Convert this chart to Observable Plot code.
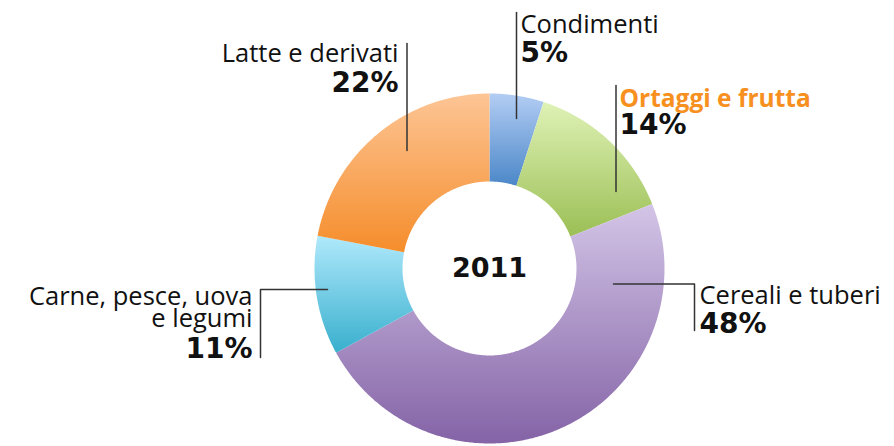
<!DOCTYPE html>
<html><head><meta charset="utf-8">
<script src="https://cdn.jsdelivr.net/npm/d3@7"></script>
<script src="https://cdn.jsdelivr.net/npm/@observablehq/plot@0.6"></script>
<style>body{margin:0;background:#fff} svg{display:block}</style>
</head><body><div id="chart"></div>
<script>
// ---- data ----
const categories = ["Condimenti", "Ortaggi e frutta", "Cereali e tuberi", "Carne, pesce, uova\ne legumi", "Latte e derivati"];
const shares = [5, 14, 48, 11, 22];
const centerLabel = "2011";

// ---- styles ----
const gradTop    = ["#b3cdf4", "#dff2b6", "#d3c5e7", "#b0e9fc", "#fdc595"];
const gradBottom = ["#4b87c8", "#9bbf55", "#8463a6", "#38afcd", "#f58d2b"];
const nameColor  = ["#111", "#f7901e", "#111", "#111", "#111"];
const nameWeight = ["normal", "bold", "normal", "normal", "normal"];

// ---- layout (pixels) ----
const W = 894, H = 446, CX = 489, CY = 268, R = 175, INNER = 0.497;
const labelLayout = [
  {anchor: "start", tx: 520, nameY: 32,  pctY: 61,  leader: [[516, 118], [516, 12]]},
  {anchor: "start", tx: 619, nameY: 106, pctY: 133, leader: [[615.5, 191], [615.5, 85]]},
  {anchor: "start", tx: 699, nameY: 303, pctY: 332, leader: [[613, 283.5], [694, 283.5], [694, 330]]},
  {anchor: "end",   tx: 252, nameY: 326, pctY: 357, leader: [[327, 289], [260, 289], [260, 357]]},
  {anchor: "end",   tx: 398, nameY: 61,  pctY: 91,  leader: [[406.5, 150], [406.5, 43]]}
];
const ux = px => (px - CX) / R;
const uy = py => (CY - py) / R;

// ---- geometry from data ----
const arcs = d3.pie().sort(null).value(d => d)(shares);
function arcPts(a0, a1, r) {
  const n = Math.max(2, Math.ceil(Math.abs(a1 - a0) / (Math.PI / 360)));
  return d3.range(n + 1).map(k => {
    const a = a0 + (a1 - a0) * k / n;
    return {x: r * Math.sin(a), y: r * Math.cos(a)};
  });
}
const slicePolys = arcs.map(a => [...arcPts(a.startAngle, a.endAngle, 1), ...arcPts(a.endAngle, a.startAngle, INNER)]);
const ringPoly = [...arcPts(0, 2 * Math.PI, 1), ...arcPts(2 * Math.PI, 0, INNER)];

const leaderRows = labelLayout.flatMap((l, i) => l.leader.map(([px, py]) => ({i, x: ux(px), y: uy(py)})));

const textMarks = labelLayout.flatMap((l, i) => [
  Plot.text([categories[i]], {
    x: () => ux(l.tx), y: () => uy(l.nameY), text: d => d,
    textAnchor: l.anchor, lineAnchor: "bottom", lineHeight: 0.83,
    fontFamily: "'Open Sans'", fontSize: nameWeight[i] === "bold" ? 24.5 : 25.5,
    fontWeight: nameWeight[i], fill: nameColor[i]
  }),
  Plot.text([shares[i]], {
    x: () => ux(l.tx), y: () => uy(l.pctY), text: d => `${d}%`,
    textAnchor: l.anchor, lineAnchor: "bottom",
    fontFamily: "'DejaVu Sans'", fontSize: 28, fontWeight: "bold", fill: "#111"
  })
]);

const svg = Plot.plot({
  width: W, height: H,
  marginTop: 0, marginRight: 0, marginBottom: 0, marginLeft: 0,
  x: {type: "linear", domain: [-1, 1], range: [CX - R, CX + R], axis: null},
  y: {type: "linear", domain: [-1, 1], range: [CY + R, CY - R], axis: null},
  style: {background: "#fff", overflow: "visible"},
  marks: [
    Plot.line(ringPoly, {x: "x", y: "y", fill: "#000", fillOpacity: 0.32, stroke: "none", dy: 3, ariaLabel: "ring-shadow"}),
    ...slicePolys.map((poly, i) =>
      Plot.line(poly, {x: "x", y: "y", fill: `url(#slice-grad-${i})`, stroke: "none"})
    ),
    Plot.line(leaderRows, {x: "x", y: "y", z: "i", stroke: "#333", strokeWidth: 1.5}),
    Plot.text([centerLabel], {x: () => 0, y: () => 0, text: d => d, fontFamily: "'DejaVu Sans'", fontSize: 27, fontWeight: "bold", fill: "#111", lineAnchor: "middle"}),
    ...textMarks
  ]
});

// gradient + blur definitions
const defs = d3.select(svg).insert("defs", ":first-child");
gradTop.forEach((c, i) => {
  const g = defs.append("linearGradient").attr("id", `slice-grad-${i}`)
    .attr("x1", 0).attr("y1", 0).attr("x2", 0).attr("y2", 1);
  g.append("stop").attr("offset", "0%").attr("stop-color", c);
  g.append("stop").attr("offset", "100%").attr("stop-color", gradBottom[i]);
});
defs.append("filter").attr("id", "ring-blur").attr("x", "-10%").attr("y", "-10%").attr("width", "120%").attr("height", "120%")
  .append("feGaussianBlur").attr("stdDeviation", 2.5);
const sh = svg.querySelector('[aria-label="ring-shadow"]');
if (sh) sh.setAttribute("filter", "url(#ring-blur)");

document.getElementById("chart").appendChild(svg);
</script>
</body></html>
